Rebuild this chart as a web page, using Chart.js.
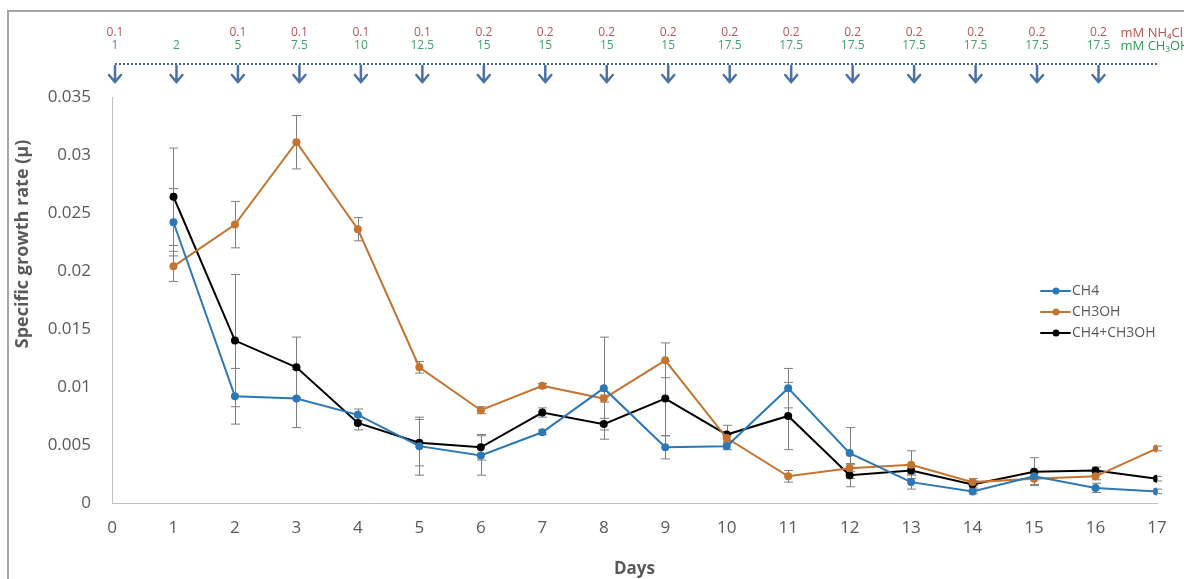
<!DOCTYPE html>
<html>
<head>
<meta charset="utf-8">
<script src="https://cdn.jsdelivr.net/npm/chart.js@4.4.1/dist/chart.umd.min.js"></script>
<style>
  html, body { margin: 0; padding: 0; background: #fff; }
  #wrap { width: 1184px; height: 579px; }
</style>
</head>
<body>
<div id="wrap"><canvas id="myChart" width="1184" height="579"></canvas></div>
<script>
// sampling days
const days = [1, 2, 3, 4, 5, 6, 7, 8, 9, 10, 11, 12, 13, 14, 15, 16, 17];

const ch4 = [0.0242, 0.0092, 0.0090, 0.0076, 0.0049, 0.0041, 0.0061, 0.0099, 0.0048, 0.0049, 0.0099, 0.0043, 0.0018, 0.0010, 0.0023, 0.0013, 0.0010];
const ch4Err = [0.0029, 0.0024, 0.0025, 0.0005, 0.0025, 0.0017, 0.0002, 0.0044, 0.0010, 0.0003, 0.0017, 0.0022, 0.0006, 0.0002, 0.0003, 0.0004, 0.0002];

const ch3oh = [0.0204, 0.0240, 0.0311, 0.0236, 0.0117, 0.0080, 0.0101, 0.0090, 0.0123, 0.0056, 0.0023, 0.0030, 0.0033, 0.0018, 0.0021, 0.0023, 0.0047];
const ch3ohErr = [0.0013, 0.0020, 0.0023, 0.0010, 0.0005, 0.0003, 0.0002, 0.0003, 0.0015, 0.0003, 0.0005, 0.0003, 0.0012, 0.0003, 0.0005, 0.0003, 0.0002];

const mix = [0.0264, 0.0140, 0.0117, 0.0069, 0.0052, 0.0048, 0.0078, 0.0068, 0.0090, 0.0059, 0.0075, 0.0024, 0.0028, 0.0016, 0.0027, 0.0028, 0.0021];
const mixErr = [0.0042, 0.0057, 0.0026, 0.0006, 0.0020, 0.0011, 0.0004, 0.0005, 0.0032, 0.0008, 0.0029, 0.0010, 0.0003, 0.0003, 0.0012, 0.0003, 0.0002];

// feeding days (arrows) and the amounts added
const feedDays = [0, 1, 2, 3, 4, 5, 6, 7, 8, 9, 10, 11, 12, 13, 14, 15, 16];
const nh4clLabels = ['0.1', '', '0.1', '0.1', '0.1', '0.1', '0.2', '0.2', '0.2', '0.2', '0.2', '0.2', '0.2', '0.2', '0.2', '0.2', '0.2'];
const ch3ohLabels = ['1', '2', '5', '7.5', '10', '12.5', '15', '15', '15', '15', '17.5', '17.5', '17.5', '17.5', '17.5', '17.5', '17.5'];

const BLUE = '#2b78b5';
const ORANGE = '#c5742f';
const BLACK = '#000000';
const GREY = '#595959';

function pts(vals) {
    return days.map((d, i) => ({ x: d, y: vals[i] }));
}

const errors = [ch4Err, ch3ohErr, mixErr];

// vertical error bars with caps
const errorBars = {
    id: 'errorBars',
    beforeDatasetsDraw(chart) {
        const { ctx, scales: { x, y } } = chart;
        ctx.save();
        ctx.strokeStyle = '#7f7f7f';
        ctx.lineWidth = 1;
        chart.data.datasets.forEach((ds, di) => {
            ds.data.forEach((p, i) => {
                const e = errors[di][i];
                const px = Math.round(x.getPixelForValue(p.x)) + 0.5;
                const top = y.getPixelForValue(p.y + e);
                const bot = y.getPixelForValue(p.y - e);
                ctx.beginPath();
                ctx.moveTo(px, top); ctx.lineTo(px, bot);
                ctx.moveTo(px - 4.5, top); ctx.lineTo(px + 4.5, top);
                ctx.moveTo(px - 4.5, bot); ctx.lineTo(px + 4.5, bot);
                ctx.stroke();
            });
        });
        ctx.restore();
    }
};

// frame, y title, feeding annotations and legend
const extras = {
    id: 'extras',
    afterDraw(chart) {
        const { ctx, chartArea, scales: { x } } = chart;
        ctx.save();
        // outer frame (left and top edges)
        ctx.strokeStyle = '#a6a6a6';
        ctx.lineWidth = 2;
        ctx.beginPath();
        ctx.moveTo(8, 600); ctx.lineTo(8, 11); ctx.lineTo(1200, 11);
        ctx.stroke();

        // y axis title, sits a bit above the middle like the original
        ctx.save();
        ctx.translate(23, 244);
        ctx.rotate(-Math.PI / 2);
        ctx.font = 'bold 18px "Open Sans"';
        ctx.fillStyle = GREY;
        ctx.textAlign = 'center';
        ctx.textBaseline = 'middle';
        ctx.fillText('Specific growth rate (\u03bc)', 0, 0);
        ctx.restore();

        // dotted line
        const lineY = 64;
        ctx.strokeStyle = '#3f6394';
        ctx.lineWidth = 2;
        ctx.setLineDash([2, 2]);
        ctx.beginPath();
        ctx.moveTo(x.getPixelForValue(0) + 3, lineY);
        ctx.lineTo(chartArea.right, lineY);
        ctx.stroke();
        ctx.setLineDash([]);

        ctx.font = '12px "Open Sans"';
        ctx.textAlign = 'center';
        ctx.textBaseline = 'middle';
        feedDays.forEach((d, i) => {
            const px = x.getPixelForValue(d) + 3;
            ctx.fillStyle = '#b4575a';
            ctx.fillText(nh4clLabels[i], px, 33);
            ctx.fillStyle = '#44a06c';
            ctx.fillText(ch3ohLabels[i], px, 46);
            // arrow
            ctx.strokeStyle = '#4a72a8';
            ctx.lineWidth = 2.5;
            ctx.lineCap = 'round';
            ctx.beginPath();
            ctx.moveTo(px, lineY + 2); ctx.lineTo(px, 82);
            ctx.moveTo(px - 6, 75); ctx.lineTo(px, 82); ctx.lineTo(px + 6, 75);
            ctx.stroke();
        });
        const lastX = x.getPixelForValue(feedDays[feedDays.length - 1]) + 3;
        ctx.textAlign = 'left';
        ctx.font = '13px "Open Sans"';
        ctx.fillStyle = '#c0504d';
        ctx.fillText('mM NH\u2084Cl', lastX + 22, 33);
        ctx.fillStyle = '#2e9a55';
        ctx.fillText('mM CH\u2083OH', lastX + 22, 46);

        // legend
        const lx = chartArea.right - 116;
        const ly = chartArea.top + 194;
        ctx.font = '14px "Open Sans"';
        chart.data.datasets.forEach((ds, i) => {
            const yy = ly + i * 21;
            ctx.strokeStyle = ds.borderColor;
            ctx.lineWidth = 2;
            ctx.beginPath();
            ctx.moveTo(lx, yy); ctx.lineTo(lx + 29, yy);
            ctx.stroke();
            ctx.fillStyle = ds.borderColor;
            ctx.beginPath();
            ctx.arc(lx + 15, yy, 3.5, 0, Math.PI * 2);
            ctx.fill();
            ctx.fillStyle = GREY;
            ctx.fillText(ds.label, lx + 31, yy);
        });
        ctx.restore();
    }
};

const ctx = document.getElementById('myChart').getContext('2d');
const myChart = new Chart(ctx, {
    type: 'line',
    data: {
        datasets: [
            { label: 'CH4', data: pts(ch4), borderColor: BLUE, backgroundColor: BLUE },
            { label: 'CH3OH', data: pts(ch3oh), borderColor: ORANGE, backgroundColor: ORANGE },
            { label: 'CH4+CH3OH', data: pts(mix), borderColor: BLACK, backgroundColor: BLACK },
        ],
    },
    options: {
        responsive: false,
        animation: false,
        borderWidth: 2,
        pointRadius: 4,
        pointBorderWidth: 0,
        tension: 0,
        layout: { padding: { top: 97, left: 8, right: 27, bottom: 0 } },
        plugins: { legend: { display: false }, tooltip: { enabled: false } },
        scales: {
            x: {
                type: 'linear',
                min: 0,
                max: 17,
                afterFit: (s) => { s.height = 76; },
                grid: { display: false, drawTicks: false },
                border: { display: true, color: '#bfbfbf', width: 1 },
                ticks: { stepSize: 1, padding: 15, color: GREY, font: { family: 'Open Sans', size: 17 } },
                title: { display: true, text: 'Days', color: GREY, padding: { top: 0, bottom: 0 }, font: { family: 'Open Sans', size: 17, weight: 'bold' } },
            },
            y: {
                min: 0,
                max: 0.035,
                afterFit: (s) => { s.width = 104; },
                grid: { display: false, drawTicks: false },
                border: { display: true, color: '#bfbfbf', width: 1 },
                ticks: {
                    stepSize: 0.005,
                    padding: 21,
                    color: GREY,
                    font: { family: 'Open Sans', size: 17 },
                    callback: (value) => String(Number(value.toFixed(3))),
                },
            },
        },
    },
    plugins: [errorBars, extras],
});
</script>
</body>
</html>
